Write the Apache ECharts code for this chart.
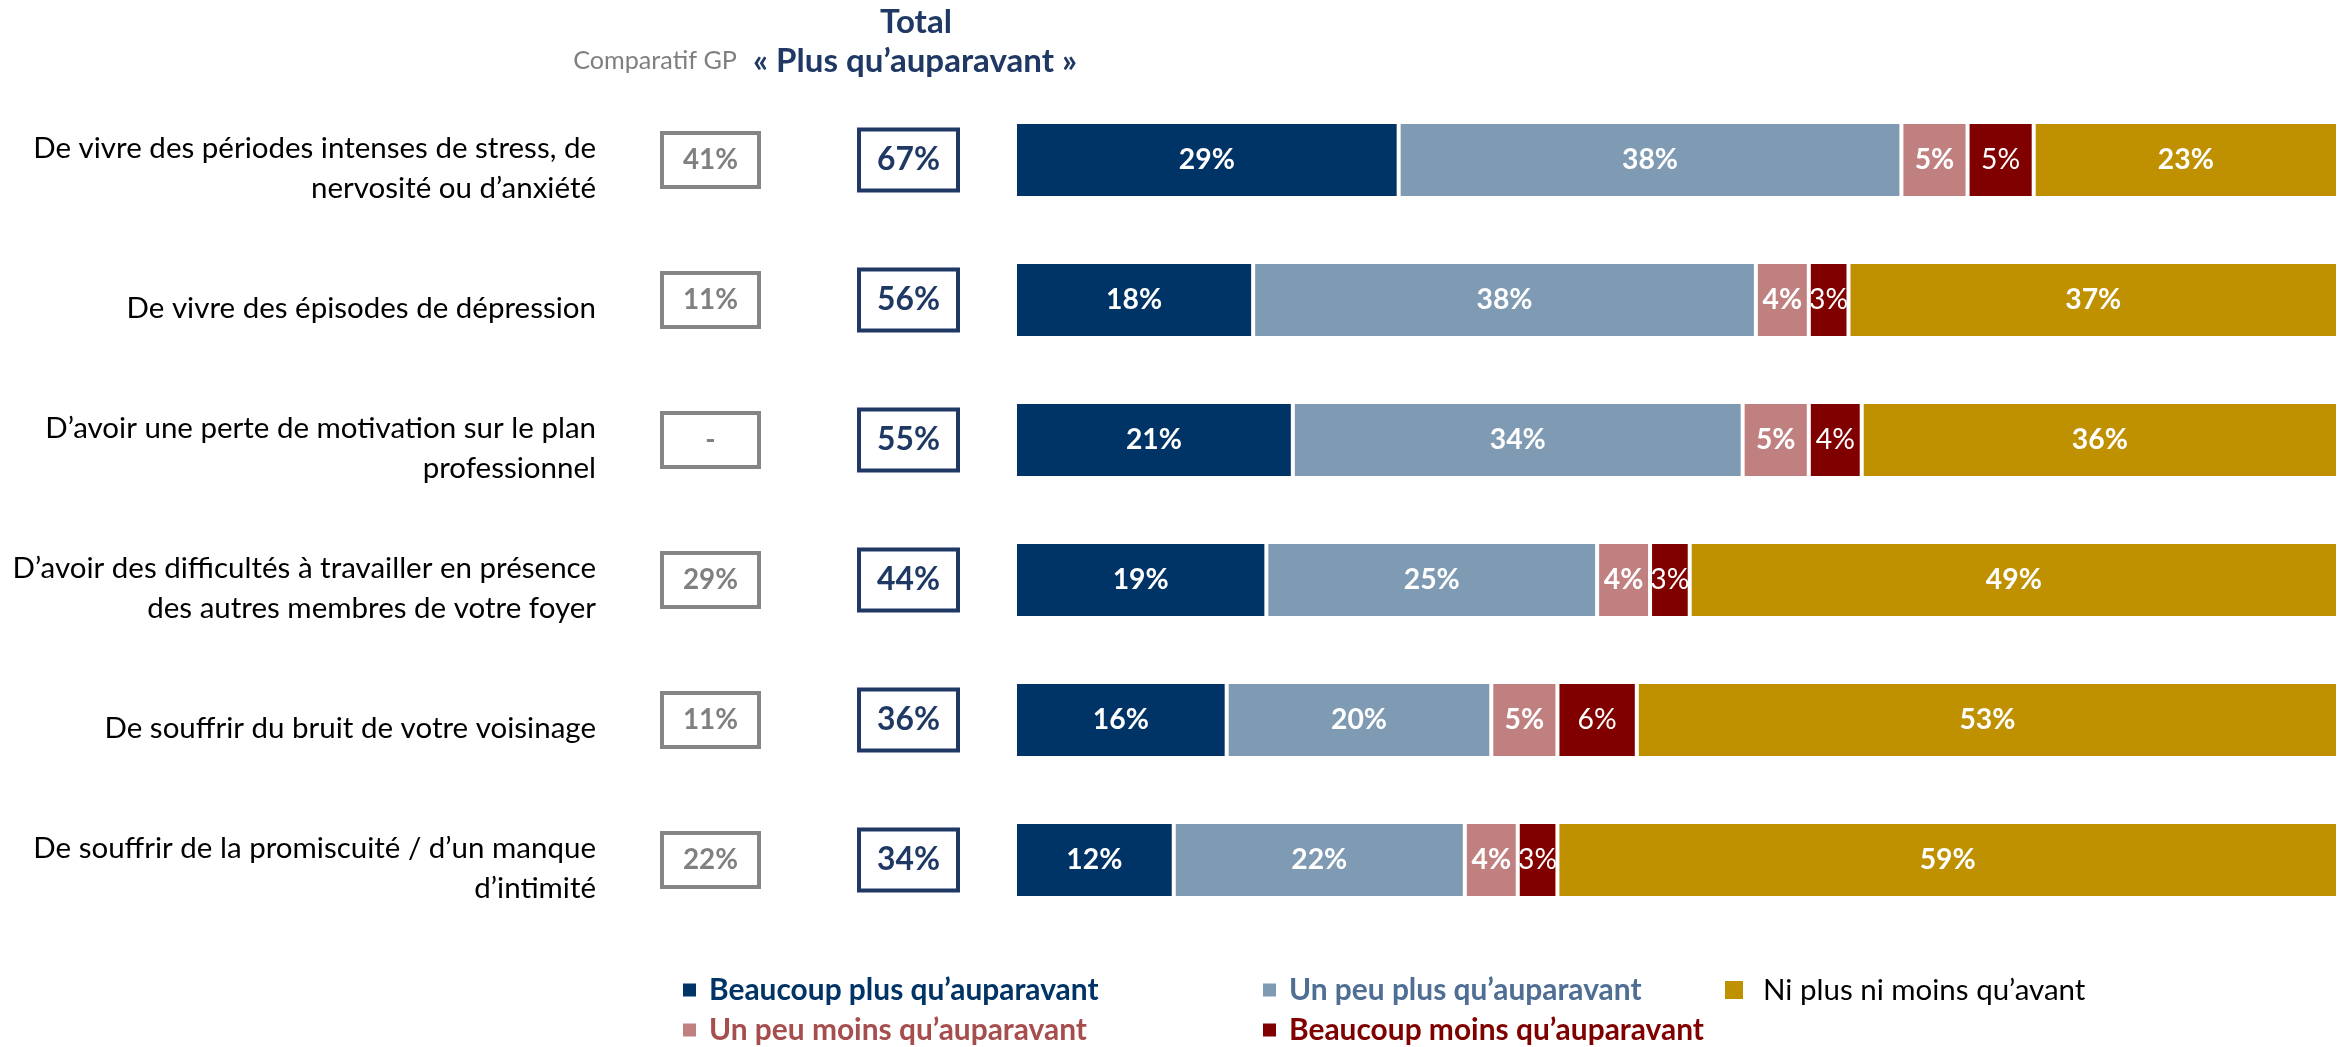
<!DOCTYPE html>
<html>
<head>
<meta charset="utf-8">
<title>Plus qu'auparavant</title>
<script src="https://cdn.jsdelivr.net/npm/echarts@6/dist/echarts.min.js"></script>
<style>
  html, body { margin: 0; padding: 0; background: #fff; }
  #chart { width: 2343px; height: 1047px; }
</style>
</head>
<body>
<div id="chart"></div>
<script>
// items, de haut en bas
const categories = [
  "De vivre des périodes intenses de stress, de\nnervosité ou d’anxiété",
  "De vivre des épisodes de dépression",
  "D’avoir une perte de motivation sur le plan\nprofessionnel",
  "D’avoir des difficultés à travailler en présence\ndes autres membres de votre foyer",
  "De souffrir du bruit de votre voisinage",
  "De souffrir de la promiscuité / d’un manque\nd’intimité"
];
const comparatifGP = ["41%", "11%", "-", "29%", "11%", "22%"];
const totalPlus = ["67%", "56%", "55%", "44%", "36%", "34%"];

const beaucoupPlus = [29, 18, 21, 19, 16, 12];
const unPeuPlus = [38, 38, 34, 25, 20, 22];
const unPeuMoins = [5, 4, 5, 4, 5, 4];
const beaucoupMoins = [5, 3, 4, 3, 6, 3];
const niPlusNiMoins = [23, 37, 36, 49, 53, 59];

const FONT = "Lato, 'Open Sans', sans-serif";
const NAVY = "#1f3864";

// taille de police pour qu'un texte fasse la largeur voulue
const ctx = document.createElement("canvas").getContext("2d");
function fit(text, width, weight) {
  ctx.font = weight + " 100px " + FONT;
  return Math.round((1000 * width) / ctx.measureText(text).width) / 10;
}
const labelSize = fit("De vivre des périodes intenses de stress, de", 563, "normal");
const legendBold = fit("Beaucoup plus qu’auparavant", 389, "bold");
const legendNormal = fit("Ni plus ni moins qu’avant", 322, "normal");
const headBold = fit("« Plus qu’auparavant »", 324, "bold");
const headGray = fit("Comparatif GP", 164, "normal");
const gpSize = fit("41%", 55, "bold");
const totSize = fit("67%", 63, "bold");
const barSize = fit("29%", 56, "bold");

const chart = echarts.init(document.getElementById("chart"));

function barSeries(name, data, color, weight) {
  return {
    name: name,
    type: "bar",
    stack: "total",
    data: data,
    barWidth: 76,
    itemStyle: { color: color, borderColor: "#fff", borderWidth: 2 },
    label: {
      show: true,
      position: "inside",
      formatter: "{c}%",
      color: "#fff",
      fontFamily: FONT,
      fontSize: barSize,
      fontWeight: weight
    }
  };
}

function legendAt(name, left, top, color, bold, icon) {
  return {
    data: [name],
    left: left,
    top: top,
    padding: 0,
    icon: "rect",
    itemWidth: icon,
    itemHeight: icon,
    itemStyle: { borderWidth: 0 },
    selectedMode: false,
    textStyle: {
      color: color,
      fontFamily: FONT,
      fontSize: bold ? legendBold : legendNormal,
      fontWeight: bold ? "bold" : "normal",
      lineHeight: 34,
      padding: [0, 0, 0, icon > 15 ? 15 : 8]
    }
  };
}

const hiddenAxis = {
  type: "category",
  inverse: true,
  position: "left",
  data: categories,
  axisLine: { show: false },
  axisTick: { show: false },
  splitLine: { show: false }
};

chart.setOption({
  animation: false,
  backgroundColor: "#fff",
  grid: [
    { left: 1015, right: 5, top: 90, bottom: 117, outerBoundsMode: "none" },
    // même grille décalée de quelques px : les libellés Calibri tombent plus bas
    { left: 1015, right: 5, top: 98, bottom: 109, outerBoundsMode: "none" }
  ],
  xAxis: [
    { type: "value", min: 0, max: 100, show: false, gridIndex: 0 },
    { type: "value", min: 0, max: 100, show: false, gridIndex: 1 }
  ],
  yAxis: [
    Object.assign({}, hiddenAxis, {
      gridIndex: 0,
      axisLabel: {
        interval: 0,
        margin: 304.5,
        align: "center",
        verticalAlign: "middle",
        formatter: (v, i) => comparatifGP[i],
        width: 97,
        height: 54,
        lineHeight: 54,
        borderColor: "#858585",
        borderWidth: 4,
        color: "#808080",
        fontFamily: FONT,
        fontWeight: "bold",
        fontSize: gpSize
      }
    }),
    Object.assign({}, hiddenAxis, {
      gridIndex: 0,
      axisLabel: {
        interval: 0,
        margin: 106.5,
        align: "center",
        verticalAlign: "middle",
        formatter: (v, i) => totalPlus[i],
        width: 99,
        height: 61,
        lineHeight: 61,
        borderColor: NAVY,
        borderWidth: 4,
        color: NAVY,
        fontFamily: FONT,
        fontWeight: "bold",
        fontSize: totSize
      }
    }),
    Object.assign({}, hiddenAxis, {
      gridIndex: 1,
      axisLabel: {
        interval: 0,
        margin: 419,
        align: "right",
        color: "#000",
        fontFamily: FONT,
        fontSize: labelSize,
        lineHeight: 40
      }
    })
  ],
  legend: [
    legendAt("Beaucoup plus qu’auparavant", 683, 973, "#003366", true, 13),
    legendAt("Un peu plus qu’auparavant", 1263, 973, "#4f6e93", true, 13),
    legendAt("Ni plus ni moins qu’avant", 1725, 973, "#000", false, 18),
    legendAt("Un peu moins qu’auparavant", 683, 1013, "#a64d4d", true, 13),
    legendAt("Beaucoup moins qu’auparavant", 1263, 1013, "#800000", true, 13)
  ],
  graphic: [
    {
      type: "text",
      x: 916,
      y: 22,
      style: { text: "Total", align: "center", verticalAlign: "middle", fill: NAVY,
        font: "bold " + headBold + "px " + FONT }
    },
    {
      type: "text",
      x: 737,
      y: 61,
      style: { text: "Comparatif GP", align: "right", verticalAlign: "middle", fill: "#7f7f7f",
        font: "normal " + headGray + "px " + FONT }
    },
    {
      type: "text",
      x: 753,
      y: 61,
      style: { text: "« Plus qu’auparavant »", align: "left", verticalAlign: "middle", fill: NAVY,
        font: "bold " + headBold + "px " + FONT }
    }
  ],
  series: [
    barSeries("Beaucoup plus qu’auparavant", beaucoupPlus, "#003366", "bold"),
    barSeries("Un peu plus qu’auparavant", unPeuPlus, "#7f9ab3", "bold"),
    barSeries("Un peu moins qu’auparavant", unPeuMoins, "#c08080", "bold"),
    barSeries("Beaucoup moins qu’auparavant", beaucoupMoins, "#800000", "normal"),
    barSeries("Ni plus ni moins qu’avant", niPlusNiMoins, "#bf9000", "bold")
  ]
});
</script>
</body>
</html>
